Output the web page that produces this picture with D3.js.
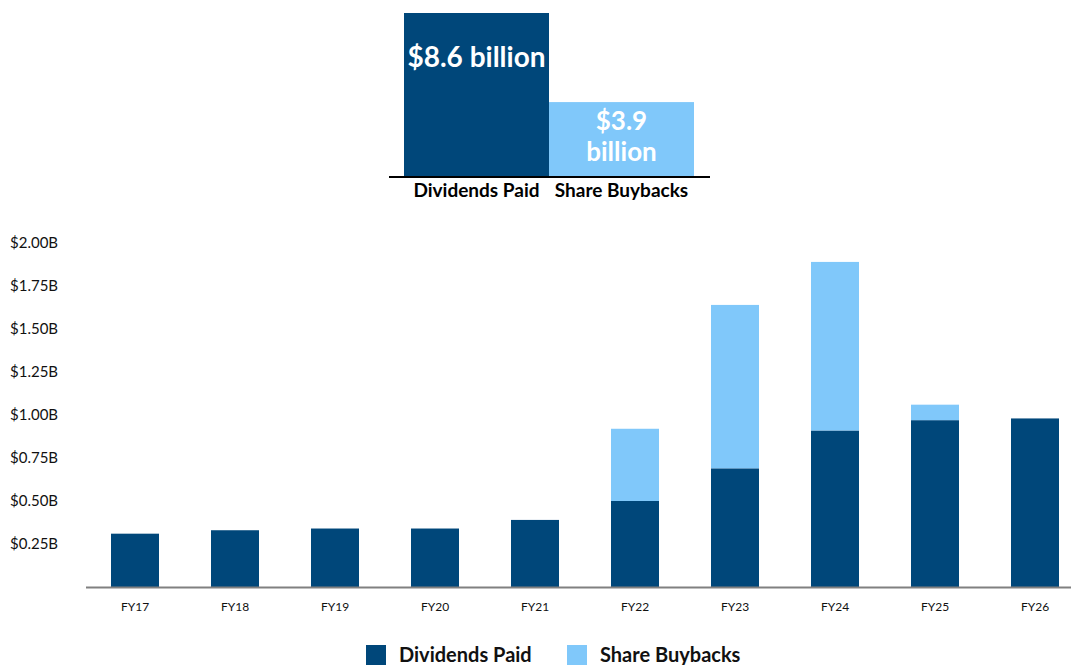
<!DOCTYPE html>
<html>
<head>
<meta charset="utf-8">
<script src="https://cdn.jsdelivr.net/npm/d3@7"></script>
<style>
  body { margin: 0; background: #fff; }
  svg { display: block; font-family: Lato, "Open Sans", sans-serif; }
</style>
</head>
<body>
<div id="chart"></div>
<script>
// ---------- data
const years = ["FY17","FY18","FY19","FY20","FY21","FY22","FY23","FY24","FY25","FY26"]
const dividends = [0.31, 0.33, 0.34, 0.34, 0.39, 0.50, 0.69, 0.91, 0.97, 0.98]
const buybacks  = [0, 0, 0, 0, 0, 0.42, 0.95, 0.98, 0.09, 0]
const yTicks = [0.25, 0.5, 0.75, 1.0, 1.25, 1.5, 1.75, 2.0]

const summaryNames = ["Dividends Paid","Share Buybacks"]
const summaryValues = [8.6, 3.9]
const summaryLabels = [["$8.6 billion"], ["$3.9", "billion"]]

const seriesKeys = ["dividends","buybacks"]
const seriesNames = ["Dividends Paid","Share Buybacks"]
const colors = ["#00477a","#80c8fa"]

// ---------- dimensions
const width = 1071, height = 665

const svg = d3.select("#chart").append("svg")
    .attr("width", width)
    .attr("height", height)

// ---------- summary bars (top)
const sumX = d3.scaleBand()
    .domain(summaryNames)
    .range([404, 694])
    .padding(0)

const sumBase = 176
const sumY = d3.scaleLinear()
    .domain([0, 8.6])
    .range([sumBase, 13])

const summary = svg.append("g")

summary.selectAll("rect")
    .data(summaryNames)
    .join("rect")
    .attr("x", d => sumX(d))
    .attr("width", sumX.bandwidth())
    .attr("y", (d, i) => sumY(summaryValues[i]))
    .attr("height", (d, i) => sumBase - sumY(summaryValues[i]))
    .attr("fill", (d, i) => colors[i])

summary.append("line")
    .attr("x1", 389).attr("x2", 710)
    .attr("y1", sumBase + 1).attr("y2", sumBase + 1)
    .attr("stroke", "#000")
    .attr("stroke-width", 2)

summary.selectAll(".catlabel")
    .data(summaryNames)
    .join("text")
    .attr("class", "catlabel")
    .attr("x", d => sumX(d) + sumX.bandwidth() / 2)
    .attr("y", 197)
    .attr("text-anchor", "middle")
    .style("font-weight", "bold")
    .style("font-size", "19px")
    .attr("fill", "#000")
    .text(d => d)

// value labels inside the bars
summaryNames.forEach((name, i) => {
    const lines = summaryLabels[i]
    const cx = sumX(name) + sumX.bandwidth() / 2
    const top = sumY(summaryValues[i])
    lines.forEach((t, j) => {
        summary.append("text")
            .attr("x", cx)
            .attr("y", i === 0 ? top + 54 : top + 28 + j * 31)
            .attr("text-anchor", "middle")
            .style("font-weight", "bold")
            .style("font-size", i === 0 ? "28px" : "26px")
            .attr("fill", "#fff")
            .text(t)
    })
})

// ---------- main stacked chart
const x = d3.scaleBand()
    .domain(years)
    .range([85, 1085])
    .paddingInner(0.52)
    .paddingOuter(0.26)

const y = d3.scaleLinear()
    .domain([0, 2])
    .range([587, 243])

const table = years.map((yr, i) => ({ year: yr, dividends: dividends[i], buybacks: buybacks[i] }))
const stacked = d3.stack().keys(seriesKeys)(table)

const yAxis = svg.append("g")
    .call(d3.axisLeft(y)
        .tickValues(yTicks)
        .tickSize(0)
        .tickFormat(d => "$" + d3.format(".2f")(d) + "B"))

yAxis.select(".domain").remove()
yAxis.selectAll("text")
    .attr("x", 10)
    .attr("text-anchor", "start")
    .style("font-family", "Lato, sans-serif")
    .style("font-size", "15px")
    .attr("fill", "#111")

svg.append("g")
    .selectAll("g")
    .data(stacked)
    .join("g")
    .attr("fill", (d, i) => colors[i])
    .selectAll("rect")
    .data(d => d.filter(p => p[1] > p[0]))
    .join("rect")
    .attr("x", d => x(d.data.year))
    .attr("width", x.bandwidth())
    .attr("y", d => y(d[1]))
    .attr("height", d => y(d[0]) - y(d[1]))

const xAxis = svg.append("g")
    .attr("transform", `translate(0,${y(0)})`)
    .call(d3.axisBottom(x).tickSize(0).tickPadding(15))

xAxis.select(".domain")
    .attr("d", `M86,0.5H${width}`)
    .attr("stroke", "#808080")
    .attr("stroke-width", 2)
xAxis.selectAll("text")
    .style("font-family", "Lato, sans-serif")
    .style("font-size", "12px")
    .attr("fill", "#111")

// ---------- legend
const legend = svg.append("g")
    .selectAll("g")
    .data(seriesNames)
    .join("g")
    .attr("transform", (d, i) => `translate(${366 + i * 201},645)`)

legend.append("rect")
    .attr("width", 20)
    .attr("height", 20)
    .attr("fill", (d, i) => colors[i])

legend.append("text")
    .attr("x", 33)
    .attr("y", 17)
    .style("font-weight", "bold")
    .style("font-size", "20px")
    .attr("fill", "#111")
    .text(d => d)
</script>
</body>
</html>
